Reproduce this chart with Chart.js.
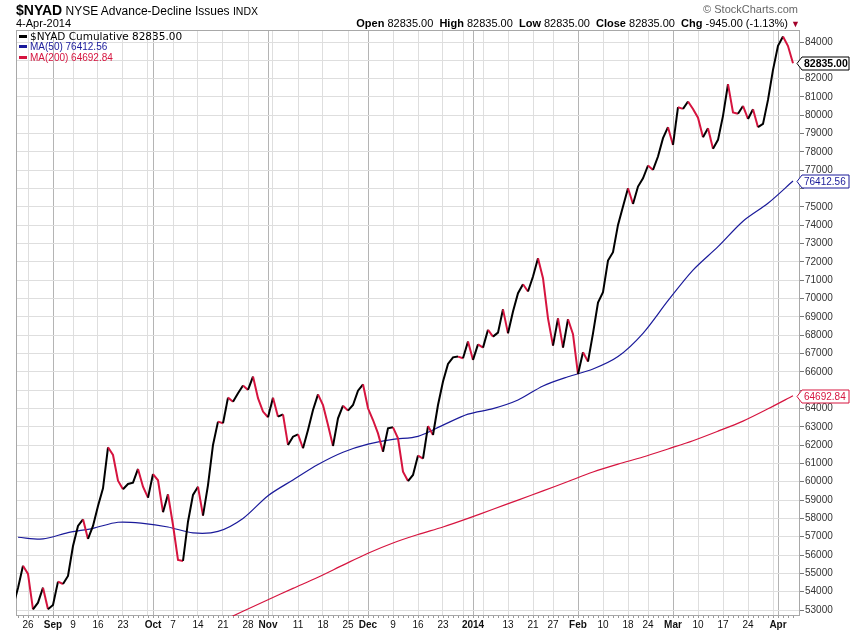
<!DOCTYPE html>
<html>
<head>
<meta charset="utf-8">
<title>$NYAD NYSE Advance-Decline Issues</title>
<script src="https://cdn.jsdelivr.net/npm/chart.js@4.4.1/dist/chart.umd.min.js"></script>
<style>
html, body { margin: 0; padding: 0; background: #fff; }
#wrap { position: relative; width: 850px; height: 633px; overflow: hidden; font-family: "Liberation Sans", Arial, sans-serif; }
#chart { position: absolute; left: 0; top: 0; }
.txt { position: absolute; white-space: nowrap; color: #000; }
.mark { display: inline-block; width: 8px; height: 3px; vertical-align: middle; margin-right: 3px; position: relative; top: -1px; }
</style>
</head>
<body>
<div id="wrap">
  <canvas id="chart" width="850" height="633"></canvas>

  <div class="txt" style="left:16px; top:2px; font-size:12px; line-height:16px;">
    <b style="font-size:14px;">$NYAD</b> NYSE Advance-Decline Issues <span style="font-size:10.5px;">INDX</span>
  </div>
  <div class="txt" style="left:16px; top:17px; font-size:11px; line-height:13px;">4-Apr-2014</div>
  <div class="txt" style="right:52px; top:3px; font-size:11px; line-height:13px; color:#666;">&copy; StockCharts.com</div>
  <div class="txt" style="right:50px; top:17px; font-size:11px; line-height:13px;">
    <b>Open</b> 82835.00&nbsp; <b>High</b> 82835.00&nbsp; <b>Low</b> 82835.00&nbsp; <b>Close</b> 82835.00&nbsp; <b>Chg</b> -945.00 (-1.13%) <span style="color:#a3002a; font-size:9px;">&#9660;</span>
  </div>

  <div class="txt" style="left:19px; top:30px; font-family:'DejaVu Sans',sans-serif; font-size:10.5px; line-height:12px;">
    <span class="mark" style="background:#000;"></span>$NYAD Cumulative 82835.00
  </div>
  <div class="txt" style="left:19px; top:41px; font-size:10px; line-height:11px; color:#1a1a9a;">
    <span class="mark" style="background:#1a1a9a;"></span>MA(50) 76412.56
  </div>
  <div class="txt" style="left:19px; top:52px; font-size:10px; line-height:11px; color:#d6143f;">
    <span class="mark" style="background:#d6143f;"></span>MA(200) 64692.84
  </div>
</div>

<script>
// trading calendar
const firstDay = '2013-08-21';
const lastDay = '2014-04-04';
const holidays = ['2013-09-02', '2013-11-28', '2013-12-25', '2014-01-01', '2014-01-20', '2014-02-17'];

// $NYAD cumulative close, one per session
const nyad = [
  53200,
  54200, 55420, 54970, 53040, 53400, 54220, 53040, 53270, 54550, 54420,
  54860, 56490, 57590, 57950, 56880, 57590, 58680, 59640, 61880, 61460,
  60060, 59590, 59880, 59950, 60700, 59730, 59130, 60420, 60080, 58340,
  59310, 57640, 55730, 55680, 57820, 59280, 59730, 58150, 59820, 62010,
  63280, 63190, 64590, 64370, 64830, 65250, 65010, 65740, 64560, 63830,
  63520, 64590, 63550, 63680, 62010, 62460, 62590, 61830, 62830, 63920,
  64770, 64190, 63100, 61950, 63460, 64150, 63880, 64190, 64970, 65320,
  64010, 63370, 62640, 61640, 62920, 62970, 62370, 60550, 60040, 60370,
  61430, 61260, 63040, 62550, 64190, 65470, 66430, 66790, 66830, 66740,
  67650, 66650, 67500, 67320, 68290, 67920, 68140, 69410, 68100, 69290,
  70290, 70780, 70380, 71200, 72200, 71110, 68920, 67430, 68920, 67320,
  68870, 68050, 65880, 67070, 66560, 68100, 69780, 70350, 72070, 72530,
  74020, 75020, 76020, 75160, 76110, 76560, 77260, 77020, 77750, 78750,
  79350, 78380, 80440, 80350, 80750, 80340, 79870, 78800, 79290, 78170,
  78660, 79970, 81700, 80150, 80080, 80510, 79800, 80330, 79350, 79530,
  80840, 82480, 83790, 84300, 83780, 82835
];

// moving averages, read every 5 sessions, last one on the final session
const maEvery = 5;
const ma50 = [
  56970, 56880, 57220, 57460, 57790, 57730, 57530, 57210, 57290, 58000,
  59240, 60100, 60940, 61610, 62050, 62310, 62480, 63090, 63690, 63990,
  64460, 65230, 65730, 66150, 66830, 68100, 69880, 71550, 72830, 74220,
  75200, 76413
];
const ma200 = [
  52290, 52930, 53560, 54180, 54790, 55450, 56100, 56660, 57120, 57530,
  58000, 58500, 59000, 59500, 60015, 60530, 60960, 61350, 61790, 62240,
  62760, 63310, 63980, 64693
];

// x axis labels
const tickDates = [
  '2013-08-26', '2013-09-03', '2013-09-09', '2013-09-16', '2013-09-23', '2013-10-01',
  '2013-10-07', '2013-10-14', '2013-10-21', '2013-10-28', '2013-11-01', '2013-11-11',
  '2013-11-18', '2013-11-25', '2013-12-02', '2013-12-09', '2013-12-16', '2013-12-23',
  '2014-01-02', '2014-01-13', '2014-01-21', '2014-01-27', '2014-02-03', '2014-02-10',
  '2014-02-18', '2014-02-24', '2014-03-03', '2014-03-10', '2014-03-17', '2014-03-24',
  '2014-04-01'
];
const tickLabels = [
  '26', 'Sep', '9', '16', '23', 'Oct',
  '7', '14', '21', '28', 'Nov', '11',
  '18', '25', 'Dec', '9', '16', '23',
  '2014', '13', '21', '27', 'Feb', '10',
  '18', '24', 'Mar', '10', '17', '24',
  'Apr'
];

// last values shown as tags on the price axis
const tagValues = [82835.00, 76412.56, 64692.84];
const tagText = ['82835.00', '76412.56', '64692.84'];

const RED = '#d6143f';
const NAVY = '#1a1a9a';

// build the list of sessions
const days = [];
for (let d = new Date(firstDay + 'T00:00:00Z'); d <= new Date(lastDay + 'T00:00:00Z'); d.setUTCDate(d.getUTCDate() + 1)) {
    const wd = d.getUTCDay();
    const iso = d.toISOString().slice(0, 10);
    if (wd === 0 || wd === 6 || holidays.includes(iso)) continue;
    days.push(iso);
}

// gridlines: first session of every week and of every month
const gridIdx = [];
const monthIdx = new Set();
for (let i = 1; i < days.length; i++) {
    const cur = new Date(days[i] + 'T00:00:00Z');
    const prev = new Date(days[i - 1] + 'T00:00:00Z');
    const newMonth = cur.getUTCMonth() !== prev.getUTCMonth();
    const newWeek = cur.getUTCDay() < prev.getUTCDay() || (cur - prev) > 6 * 864e5;
    if (newMonth) monthIdx.add(i);
    if (newMonth || newWeek) gridIdx.push(i);
}
const labelAt = {};
tickDates.forEach((d, k) => { labelAt[days.indexOf(d)] = tickLabels[k]; });

const lastIdx = days.length - 1;
function maPoints(values) {
    return values.map((v, k) => ({ x: lastIdx - (values.length - 1 - k) * maEvery, y: v }));
}

const yTicks = [];
for (let v = 53000; v <= 84000; v += 1000) yTicks.push(v);

const chartExtras = {
    id: 'chartExtras',
    beforeDatasetsDraw(chart) {
        const { ctx, chartArea: a, scales } = chart;
        ctx.save();
        ctx.strokeStyle = '#a8a8a8';
        ctx.lineWidth = 1;
        ctx.strokeRect(a.left + 0.5, a.top + 0.5, a.right - a.left - 1, a.bottom - a.top - 1);
        // small session marks under the plot
        ctx.fillStyle = '#999';
        days.forEach((d, i) => {
            const px = Math.round(scales.x.getPixelForValue(i));
            if (px > a.left && px < a.right) ctx.fillRect(px, a.bottom, 1, 2);
        });
        ctx.restore();
    },
    afterDraw(chart) {
        const { ctx, scales } = chart;
        const colors = ['#000', NAVY, RED];
        ctx.save();
        tagValues.forEach((v, k) => {
            const y = Math.round(scales.y.getPixelForValue(v)) + 0.5;
            const x0 = 797, x1 = 802, x2 = 849;
            ctx.beginPath();
            ctx.moveTo(x0, y);
            ctx.lineTo(x1, y - 6.5);
            ctx.lineTo(x2, y - 6.5);
            ctx.lineTo(x2, y + 6.5);
            ctx.lineTo(x1, y + 6.5);
            ctx.closePath();
            ctx.fillStyle = '#fff';
            ctx.fill();
            ctx.strokeStyle = colors[k];
            ctx.lineWidth = 1;
            ctx.stroke();
            ctx.fillStyle = k === 0 ? '#000' : colors[k];
            ctx.font = (k === 0 ? 'bold 10.5px' : '10px') + ' "Liberation Sans", Arial, sans-serif';
            ctx.textBaseline = 'middle';
            ctx.fillText(tagText[k], 804, y + 0.5);
        });
        ctx.restore();
    }
};

const chart = new Chart(document.getElementById('chart'), {
    type: 'line',
    data: {
        datasets: [
            {
                label: '$NYAD',
                data: nyad.map((v, i) => ({ x: i, y: v })),
                borderColor: '#000',
                borderWidth: 2,
                pointRadius: 0,
                tension: 0,
                order: 0,
                segment: {
                    borderColor: ctx => ctx.p1.parsed.y < ctx.p0.parsed.y ? RED : '#000'
                }
            },
            {
                label: 'MA(50)',
                data: maPoints(ma50),
                borderColor: NAVY,
                borderWidth: 1.2,
                pointRadius: 0,
                tension: 0.3,
                order: 1
            },
            {
                label: 'MA(200)',
                data: maPoints(ma200),
                borderColor: RED,
                borderWidth: 1.2,
                pointRadius: 0,
                tension: 0.3,
                order: 2
            }
        ]
    },
    options: {
        responsive: false,
        animation: false,
        devicePixelRatio: 1,
        layout: { padding: { top: 30, left: 16, right: 0, bottom: 0 } },
        plugins: { legend: { display: false }, tooltip: { enabled: false } },
        scales: {
            x: {
                type: 'linear',
                min: 0.6,
                max: 157.4,
                afterBuildTicks: scale => {
                    scale.ticks = gridIdx.map(i => ({ value: i, major: monthIdx.has(i) }));
                },
                afterFit: scale => { scale.height = 17; },
                border: { display: false },
                grid: {
                    color: ctx => (ctx.tick && ctx.tick.major) ? '#b4b4b4' : '#dedede',
                    drawTicks: false
                },
                ticks: {
                    autoSkip: false,
                    maxRotation: 0,
                    padding: 3,
                    color: '#111',
                    callback: value => labelAt[value] || '',
                    font: ctx => ({
                        family: '"Liberation Sans", Arial, sans-serif',
                        size: 10,
                        weight: (ctx.tick && ctx.tick.major) ? 'bold' : 'normal'
                    })
                }
            },
            y: {
                type: 'linear',
                position: 'right',
                min: 52673,
                max: 84655,
                afterBuildTicks: scale => {
                    scale.ticks = yTicks.map(v => ({ value: v }));
                },
                afterFit: scale => { scale.width = 50; },
                border: { display: false },
                grid: {
                    color: '#dedede',
                    tickColor: '#777',
                    tickLength: 4
                },
                ticks: {
                    padding: 1,
                    color: '#333',
                    font: { family: '"Liberation Sans", Arial, sans-serif', size: 10 },
                    callback: value => tagValues.some(t => Math.abs(t - value) < 500) ? '' : String(value)
                }
            }
        }
    },
    plugins: [chartExtras]
});
</script>
</body>
</html>
